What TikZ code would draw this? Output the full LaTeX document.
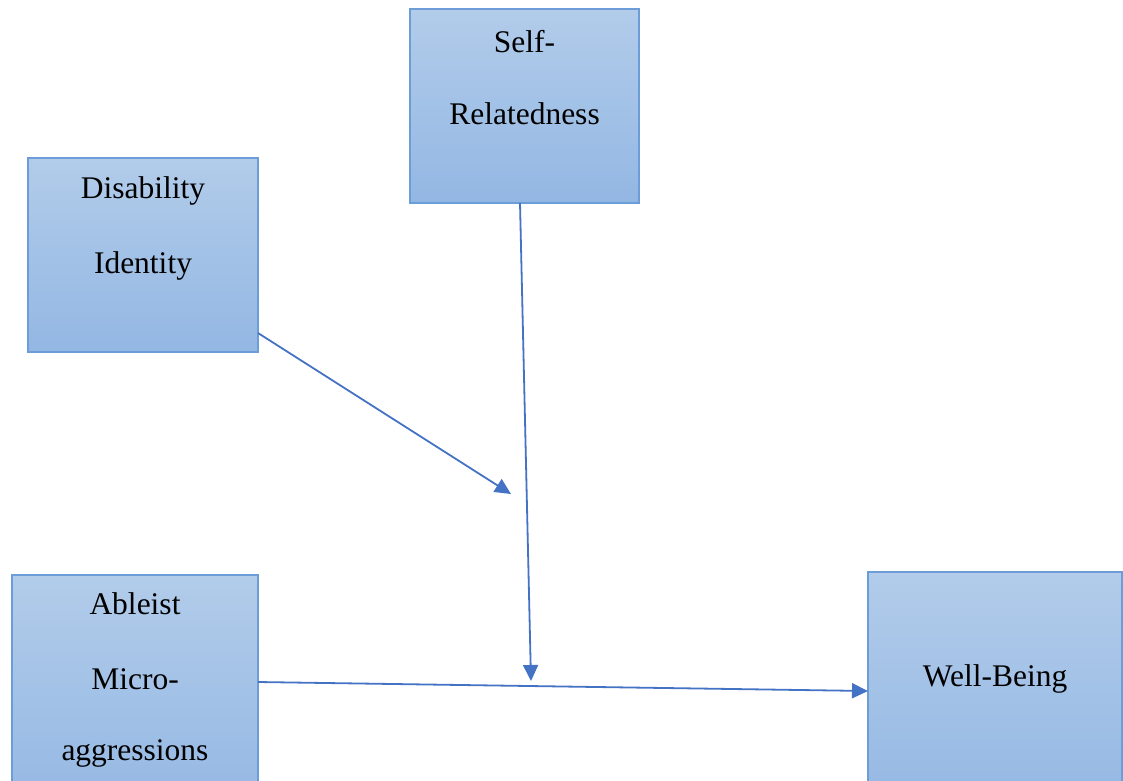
\documentclass[tikz,border=0pt]{standalone}
\usepackage{fontspec}
\setmainfont{Liberation Serif}
\usetikzlibrary{arrows.meta}
\definecolor{boxtop}{HTML}{B2CCEA}
\definecolor{boxbot}{HTML}{93B7E3}
\definecolor{boxline}{HTML}{6C9DD8}
\definecolor{arrowc}{HTML}{4472C4}
\tikzset{
  varbox/.style={draw=boxline, line width=1.5pt, top color=boxtop, bottom color=boxbot, rectangle, inner sep=0pt},
  lbl/.style={anchor=base, inner sep=0pt, font=\fontsize{31.5}{36}\selectfont},
  link/.style={draw=arrowc, line width=1.8pt, -{Triangle[length=16pt,width=15pt]}}
}
\begin{document}
\begin{tikzpicture}[x=1pt,y=-1pt]
\useasboundingbox (0,0) rectangle (1123,780);
\clip (0,0) rectangle (1123,780);
% boxes
\node[varbox, minimum width=229pt, minimum height=194pt] (self) at (524.5,106) {};
\node[varbox, minimum width=230pt, minimum height=194pt] (dis) at (143,255) {};
\node[varbox, minimum width=246pt, minimum height=240pt] (able) at (135,695) {};
\node[varbox, minimum width=254pt, minimum height=240pt] (well) at (995,692) {};
% labels
\node[lbl] (self1) at (524.5,52) {Self-};
\node[lbl] (self2) at (524.5,124) {Relatedness};
\node[lbl] (dis1) at (143,198) {Disability};
\node[lbl] (dis2) at (143,273) {Identity};
\node[lbl] (able1) at (135,614) {Ableist};
\node[lbl] (able2) at (135,689) {Micro-};
\node[lbl] (able3) at (135,760) {aggressions};
\node[lbl] (well1) at (995,686) {Well-Being};
% connector endpoints
\coordinate (disout) at (258,333);
\coordinate (modtip1) at (511,494);
\coordinate (selfout) at (520,203);
\coordinate (modtip2) at (531,681);
\coordinate (ableout) at (258,682);
\coordinate (wellin) at (868,691);
\draw[link] (disout) -- (modtip1);
\draw[link] (selfout) -- (modtip2);
\draw[link] (ableout) -- (wellin);
\end{tikzpicture}
\end{document}
